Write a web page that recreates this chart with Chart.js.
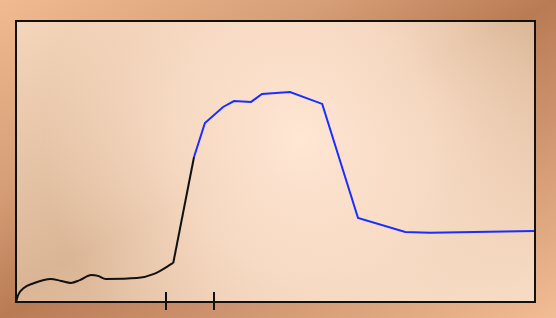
<!DOCTYPE html>
<html>
<head>
<meta charset="utf-8">
<script src="https://cdn.jsdelivr.net/npm/chart.js@4/dist/chart.umd.min.js"></script>
<style>
  html, body { margin: 0; padding: 0; }
  body {
    width: 556px; height: 318px; overflow: hidden;
    background: linear-gradient(to bottom right, #f2ba90 0%, #d69e76 30%, #b97b54 50%, #cf9570 70%, #f2bc94 100%);
  }
  #wrap { position: relative; width: 556px; height: 318px; }
</style>
</head>
<body>
<div id="wrap"><canvas id="c" width="556" height="318"></canvas></div>
<script>
// Smooth (black) low-level section
const lowX = [0, 0.5, 1.5, 3.3, 6.7, 8.7, 10.6, 12.3, 14.5, 15.8, 17.3, 23.3, 26.6, 30.3];
const lowY = [0, 2.8, 5.0, 6.6, 8.2, 7.5, 6.8, 7.8, 9.6, 9.3, 8.2, 8.5, 10.0, 13.9];
// Straight section (first segment black, rest blue)
const highX = [30.3, 34.3, 36.4, 39.9, 42.0, 45.3, 47.4, 52.8, 59.0, 65.9, 75.0, 79.8, 99.8];
const highY = [13.9, 51.6, 63.7, 69.4, 71.5, 71.2, 74.0, 74.7, 70.5, 29.9, 24.9, 24.6, 25.3];
// Axis tick marks on the x axis
const tickValues = [28.9, 38.1];

const toPts = (xs, ys) => xs.map((x, i) => ({ x: x, y: ys[i] }));

const framePlugin = {
  id: 'frame',
  beforeDatasetsDraw(chart) {
    const { ctx, chartArea: a } = chart;
    const w = a.right - a.left, h = a.bottom - a.top;
    ctx.save();
    const lg = ctx.createLinearGradient(a.left, a.top, a.left + h * 0.8, a.top + w * 0.8);
    lg.addColorStop(0, '#f4d6bc');
    lg.addColorStop(0.5, '#dab595');
    lg.addColorStop(1, '#f6dac2');
    ctx.fillStyle = lg;
    ctx.fillRect(a.left, a.top, w, h);
    const cx = a.left + w * 0.55, cy = a.top + h * 0.42;
    const rg = ctx.createRadialGradient(cx, cy, 0, cx, cy, w * 0.5);
    rg.addColorStop(0, 'rgba(255,231,213,1)');
    rg.addColorStop(0.5, 'rgba(255,228,208,0.7)');
    rg.addColorStop(1, 'rgba(255,228,208,0)');
    ctx.fillStyle = rg;
    ctx.fillRect(a.left, a.top, w, h);
    ctx.restore();
  },
  afterDraw(chart) {
    const { ctx, chartArea: a, scales } = chart;
    ctx.save();
    ctx.strokeStyle = '#111111';
    ctx.lineWidth = 2;
    ctx.strokeRect(a.left, a.top, a.right - a.left, a.bottom - a.top);
    tickValues.forEach(v => {
      const px = Math.round(scales.x.getPixelForValue(v));
      ctx.beginPath();
      ctx.moveTo(px, a.bottom - 10);
      ctx.lineTo(px, a.bottom + 8);
      ctx.stroke();
    });
    ctx.restore();
  }
};

new Chart(document.getElementById('c'), {
  type: 'line',
  data: {
    datasets: [
      {
        data: toPts(lowX, lowY),
        borderColor: '#111111',
        borderWidth: 2,
        cubicInterpolationMode: 'monotone',
        pointRadius: 0,
        fill: false
      },
      {
        data: toPts(highX, highY),
        borderColor: '#1a2dff',
        borderWidth: 2,
        tension: 0,
        pointRadius: 0,
        fill: false,
        segment: {
          borderColor: c => c.p0DataIndex === 0 ? '#111111' : '#1a2dff'
        }
      }
    ]
  },
  options: {
    responsive: false,
    animation: false,
    layout: { padding: { left: 16, top: 21, right: 21, bottom: 16 } },
    plugins: { legend: { display: false }, tooltip: { enabled: false } },
    scales: {
      x: { type: 'linear', min: 0, max: 100, display: false },
      y: { type: 'linear', min: 0, max: 100, display: false }
    }
  },
  plugins: [framePlugin]
});
</script>
</body>
</html>
